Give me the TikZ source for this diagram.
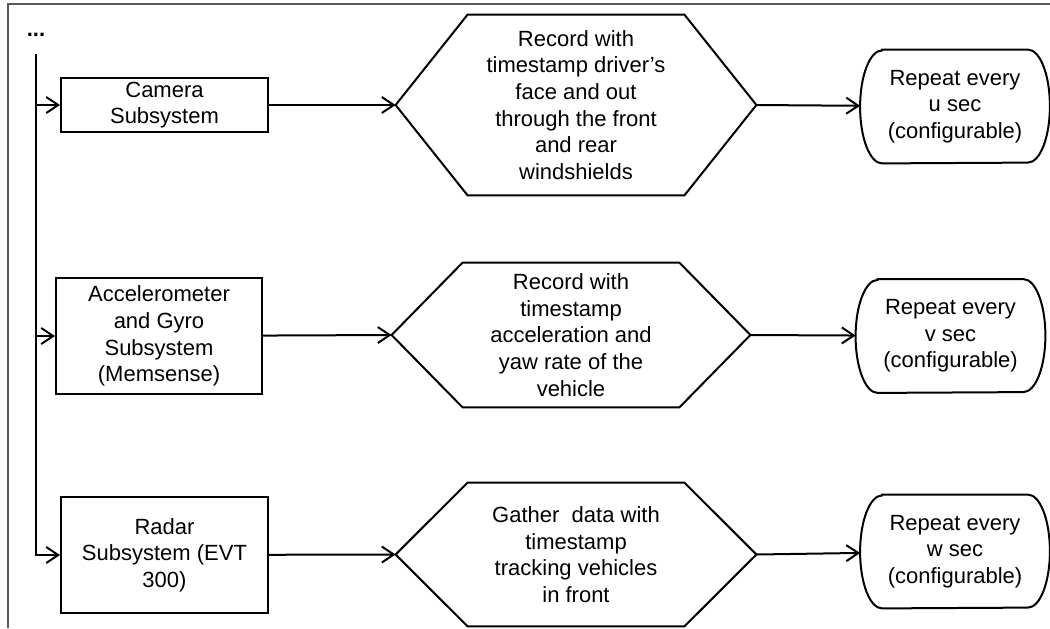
\documentclass[tikz,border=0pt]{standalone}
\usepackage{fontspec}
\setmainfont{Liberation Sans}
\usetikzlibrary{arrows.meta}

\begin{document}
\begin{tikzpicture}[x=0.5pt,y=-0.5pt,
	every node/.style={font=\fontsize{11}{13.3}\selectfont,align=center},
	subbox/.style={draw,line width=1pt,rectangle,inner sep=0pt},
	hexbox/.style={rectangle,inner sep=0pt,minimum width=180pt},
	termbox/.style={rectangle,inner sep=0pt,minimum width=94.5pt,minimum height=56.5pt},
	link/.style={line width=1pt,-{Straight Barb[length=6pt,width=8pt]}}]
	\useasboundingbox (0,0) rectangle (1050,628);
	\draw[gray!70!black,line width=0.6pt] (8,628) -- (8,4) -- (1050,4);

	\node (dots) at (36,35) {\textbf{...}};
	\coordinate (bustop) at (36,54);

	\node[subbox,minimum width=103.5pt,minimum height=27pt] (camera) at (164.5,105) {Camera\\Subsystem};
	\node[subbox,minimum width=103pt,minimum height=58pt] (accel) at (159,336) {Accelerometer\\and Gyro\\Subsystem\\(Memsense)};
	\node[subbox,minimum width=103.5pt,minimum height=58pt] (radar) at (164.5,555) {Radar\\Subsystem (EVT\\300)};

	\node[hexbox,minimum height=90pt] (rec1) at (576,105) {Record with\\timestamp driver's\\face and out\\through the front\\and rear\\windshields};
	\node[hexbox,minimum width=179pt,minimum height=72pt] (rec2) at (571,335) {Record with\\timestamp\\acceleration and\\yaw rate of the\\vehicle};
	\node[hexbox,minimum height=71.5pt] (rec3) at (576,554.5) {Gather\ \ data with\\timestamp\\tracking vehicles\\in front};
	\foreach \h/\s in {rec1/36pt,rec2/35.5pt,rec3/36pt}
		\draw[line width=1pt] (\h.west) -- ([xshift=\s]\h.north west) -- ([xshift=-\s]\h.north east)
			-- (\h.east) -- ([xshift=-\s]\h.south east) -- ([xshift=\s]\h.south west) -- cycle;

	\node[termbox] (rep1) at (955,106.5) {Repeat every\\u sec\\(configurable)};
	\node[termbox] (rep2) at (950.5,336) {Repeat every\\v sec\\(configurable)};
	\node[termbox] (rep3) at (955,551.5) {Repeat every\\w sec\\(configurable)};
	% elliptic ends
	\foreach \r in {rep1,rep2,rep3}
		\draw[line width=1pt] ([xshift=11pt]\r.north west) -- ([xshift=-11pt]\r.north east)
			arc[start angle=90,end angle=-90,x radius=11pt,y radius=28.25pt]
			-- ([xshift=11pt]\r.south west)
			arc[start angle=270,end angle=90,x radius=11pt,y radius=28.25pt] -- cycle;

	\draw[link] (bustop) |- (radar.west);
	\draw[link] (bustop |- camera.west) -- (camera.west);
	\draw[link] (bustop |- accel.west) -- (accel.west);

	\draw[link] (camera) -- (rec1.west);
	\draw[link] (accel) -- (rec2.west);
	\draw[link] (radar) -- (rec3.west);

	\draw[link] (rec1.east) -- (rep1);
	\draw[link] (rec2.east) -- (rep2);
	\draw[link] (rec3.east) -- (rep3);
\end{tikzpicture}
\end{document}
